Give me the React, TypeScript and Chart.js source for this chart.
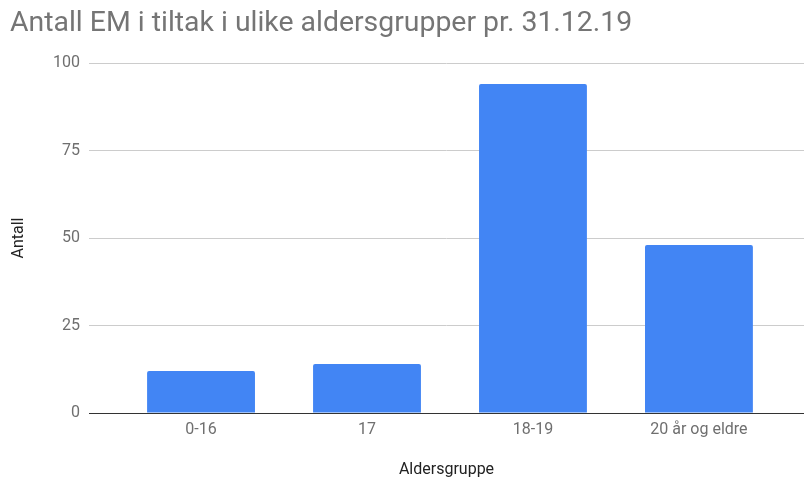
import React, { useEffect, useRef } from "react";
import { Chart, registerables } from "chart.js";

Chart.register(...registerables);

const categories = ["0-16", "17", "18-19", "20 år og eldre"];
const values = [12, 14, 94, 48];
const yTicks = [0, 25, 50, 75, 100];

const TITLE = "Antall EM i tiltak i ulike aldersgrupper pr. 31.12.19";
const X_TITLE = "Aldersgruppe";
const Y_TITLE = "Antall";

export default function App() {
  const ref = useRef<HTMLCanvasElement | null>(null);
  useEffect(() => {
    if (!ref.current) return;
    const chart = new Chart(ref.current, {
      type: "bar",
      data: {
        datasets: [
          {
            data: values.map((v, i) => ({ x: i, y: v })),
            backgroundColor: "#4285F4",
            borderRadius: { topLeft: 2, topRight: 2, bottomLeft: 0, bottomRight: 0 },
            borderSkipped: "start",
            categoryPercentage: 1,
            barPercentage: 0.65,
          },
        ],
      },
      options: {
        animation: false,
        responsive: false,
        maintainAspectRatio: false,
        layout: { padding: { left: 10, right: 0, top: 0, bottom: 0 } },
        plugins: {
          legend: { display: false },
          tooltip: { enabled: false },
          title: {
            display: true,
            text: TITLE,
            align: "start",
            color: "#757575",
            font: { family: "Roboto", size: 28.4, weight: "normal" },
            padding: { top: 7, bottom: 22 },
          },
        },
        scales: {
          x: {
            type: "linear",
            offset: false,
            min: -0.675,
            max: 3.633,
            afterBuildTicks: (scale: any) => {
              scale.ticks = categories.map((_, i) => ({ value: i }));
            },
            afterFit: (scale: any) => {
              scale.height = 70;
            },
            grid: { display: false, drawTicks: false, offset: false },
            border: { display: true, color: "#333333", width: 1 },
            ticks: {
              autoSkip: false,
              maxRotation: 0,
              padding: 7,
              color: "#6f6f6f",
              font: { family: "Roboto", size: 16 },
              callback: (v: any) => categories[Number(v)] ?? "",
            },
            title: {
              display: true,
              text: X_TITLE,
              color: "#222222",
              font: { family: "Roboto", size: 16 },
              padding: { top: 0, bottom: 3 },
            },
          },
          y: {
            min: 0,
            max: 100,
            afterBuildTicks: (scale: any) => {
              scale.ticks = yTicks.map((v) => ({ value: v }));
            },
            afterFit: (scale: any) => {
              scale.width = 79;
            },
            grid: { color: "#cccccc", drawTicks: false },
            border: { display: false },
            ticks: {
              padding: 9,
              color: "#6f6f6f",
              font: { family: "Roboto", size: 16 },
            },
            title: {
              display: true,
              text: Y_TITLE,
              color: "#222222",
              font: { family: "Roboto", size: 16 },
              padding: { top: -1, bottom: 0 },
            },
          },
        },
      },
    });
    return () => chart.destroy();
  }, []);
  return (
    <div style={{ position: "fixed", left: 0, top: 0, width: 804, height: 483, background: "#fff" }}>
      <canvas ref={ref} width={804} height={483} style={{ width: 804, height: 483 }} />
    </div>
  );
}
